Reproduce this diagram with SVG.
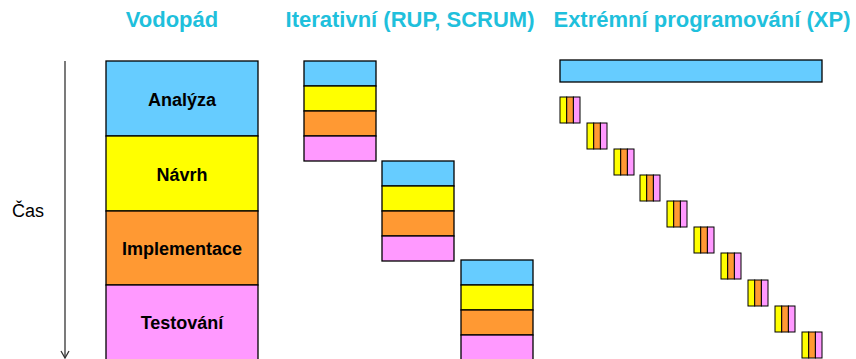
<svg xmlns="http://www.w3.org/2000/svg" width="856" height="359" viewBox="0 0 856 359">
<style>
.t{font-family:"Liberation Sans",Arial,sans-serif;font-weight:bold;font-size:22px;fill:#1fc0dc;text-anchor:middle}
.l{font-family:"Liberation Sans",Arial,sans-serif;font-weight:bold;font-size:18px;fill:#000;text-anchor:middle}
.b{stroke:#000;stroke-width:1.3}
.s{stroke:#000;stroke-width:1}
.A{fill:#66ccff}.N{fill:#ffff00}.I{fill:#ff9933}.T{fill:#ff99ff}
</style>
<defs>
<g id="xp">
<rect class="s N" x="0" y="0" width="6.7" height="26"/>
<rect class="s I" x="6.7" y="0" width="6.7" height="26"/>
<rect class="s T" x="13.4" y="0" width="6.6" height="26"/>
</g>
<g id="it">
<rect class="b A" x="0" y="0" width="72" height="25"/>
<rect class="b N" x="0" y="25" width="72" height="25"/>
<rect class="b I" x="0" y="50" width="72" height="25"/>
<rect class="b T" x="0" y="75" width="72" height="25"/>
</g>
</defs>
<rect width="856" height="359" fill="#fff"/>
<g id="titles">
<text class="t" x="172" y="27">Vodopád</text>
<text class="t" x="410" y="27">Iterativní (RUP, SCRUM)</text>
<text class="t" x="702" y="27">Extrémní programování (XP)</text>
</g>
<g id="time-axis">
<line x1="65" y1="61" x2="65" y2="358" stroke="#333" stroke-width="1.3"/>
<polyline points="61,351 65,358 69,351" fill="none" stroke="#333" stroke-width="1.3"/>
<text x="12" y="217" font-family="Liberation Sans,Arial,sans-serif" font-size="18">Čas</text>
</g>
<g id="waterfall">
<g id="analyza"><rect class="b A" x="106" y="61" width="152" height="75"/><text class="l" x="182" y="106">Analýza</text></g>
<g id="navrh"><rect class="b N" x="106" y="136" width="152" height="75"/><text class="l" x="182" y="181">Návrh</text></g>
<g id="implementace"><rect class="b I" x="106" y="211" width="152" height="74"/><text class="l" x="182" y="255">Implementace</text></g>
<g id="testovani"><rect class="b T" x="106" y="285" width="152" height="76"/><text class="l" x="182" y="329">Testování</text></g>
</g>
<g id="iterative">
<use id="iter1" href="#it" x="304" y="61"/>
<use id="iter2" href="#it" x="382" y="161"/>
<use id="iter3" href="#it" x="461" y="260"/>
</g>
<g id="xp-group">
<rect id="xp-analysis" class="b A" x="560" y="60" width="262" height="22"/>
<use href="#xp" x="560" y="97"/>
<use href="#xp" x="587" y="123"/>
<use href="#xp" x="614" y="149"/>
<use href="#xp" x="640" y="175"/>
<use href="#xp" x="667" y="201"/>
<use href="#xp" x="694" y="227"/>
<use href="#xp" x="721" y="253"/>
<use href="#xp" x="748" y="280"/>
<use href="#xp" x="775" y="306"/>
<use href="#xp" x="802" y="332"/>
</g>
</svg>
